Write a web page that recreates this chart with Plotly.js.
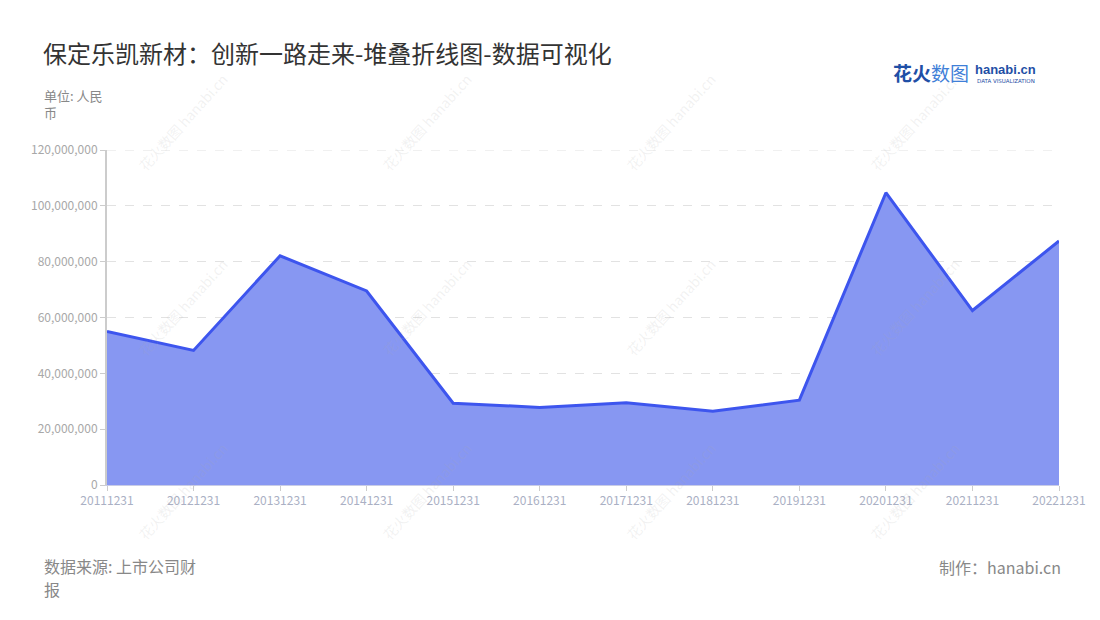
<!DOCTYPE html>
<html>
<head>
<meta charset="utf-8">
<script src="https://cdn.plot.ly/plotly-3.0.1.min.js"></script>
<style>
  html, body { margin: 0; padding: 0; background: #ffffff; }
  #chart { width: 1100px; height: 620px; }
</style>
</head>
<body>
<div id="chart"></div>
<script>
// ---- data ----
const categories = ["20111231","20121231","20131231","20141231","20151231","20161231","20171231","20181231","20191231","20201231","20211231","20221231"];
const values = [55000000, 48200000, 82100000, 69500000, 29300000, 27800000, 29500000, 26400000, 30400000, 104700000, 62500000, 87400000];
const yTickVals = [0, 20000000, 40000000, 60000000, 80000000, 100000000, 120000000];
const yMax = 120000000;
const titleText = "保定乐凯新材：创新一路走来-堆叠折线图-数据可视化";
const unitText = "单位: 人民<br>币";
const sourceLine1 = "数据来源: 上市公司财";
const sourceLine2 = "报";
const makerText = "制作：hanabi.cn";
const watermarkText = "花火数图 hanabi.cn";

// ---- layout helpers (pixel -> paper) ----
const W = 1100, H = 620;
const M = { l: 107, r: 41, t: 150, b: 135 };
const PW = W - M.l - M.r, PH = H - M.t - M.b;
const px = x => (x - M.l) / PW;
const py = y => (H - M.b - y) / PH;

const FONT = "'Noto Sans CJK SC', 'Noto Sans', sans-serif";

const annotations = [];

// watermarks
const wmCols = [183, 427, 671, 915];
const wmRows = [122, 307, 491];
wmCols.forEach(cx => wmRows.forEach(cy => {
  annotations.push({
    xref: 'paper', yref: 'paper', x: px(cx), y: py(cy),
    text: watermarkText, showarrow: false, textangle: -48,
    font: { family: FONT, size: 14, color: 'rgba(170,170,170,0.16)' },
    xanchor: 'center', yanchor: 'middle'
  });
}));

annotations.push(
  { xref: 'paper', yref: 'paper', x: px(42), y: py(84), xanchor: 'left', yanchor: 'top', align: 'left',
    text: unitText, showarrow: false, font: { family: FONT, size: 13, color: '#888888' } },
  { xref: 'paper', yref: 'paper', x: px(42), y: py(566), xanchor: 'left', yanchor: 'middle', align: 'left',
    text: sourceLine1, showarrow: false, font: { family: FONT, size: 16, color: '#888888' } },
  { xref: 'paper', yref: 'paper', x: px(42), y: py(589), xanchor: 'left', yanchor: 'middle', align: 'left',
    text: sourceLine2, showarrow: false, font: { family: FONT, size: 16, color: '#888888' } },
  { xref: 'paper', yref: 'paper', x: px(1063), y: py(567), xanchor: 'right', yanchor: 'middle',
    text: makerText, showarrow: false, font: { family: FONT, size: 16, color: '#888888' } },
  // logo
  { xref: 'paper', yref: 'paper', x: px(891), y: py(73), xanchor: 'left', yanchor: 'middle',
    text: "<b>花火</b><span style='color:#3f7fd8'>数图</span>", showarrow: false,
    font: { family: FONT, size: 19, color: '#1f4fa6' } },
  { xref: 'paper', yref: 'paper', x: px(973), y: py(70), xanchor: 'left', yanchor: 'middle',
    text: "<b>hanabi.cn</b>", showarrow: false,
    font: { family: "'Liberation Sans', sans-serif", size: 13, color: '#1f4fa6' } },
  { xref: 'paper', yref: 'paper', x: px(975), y: py(81), xanchor: 'left', yanchor: 'middle',
    text: "DATA VISUALIZATION", showarrow: false,
    font: { family: "'DejaVu Sans', sans-serif", size: 5.5, color: '#1f4fa6' } }
);

const trace = {
  type: 'scatter',
  mode: 'lines',
  x: categories,
  y: values,
  fill: 'tozeroy',
  fillcolor: '#8797f2',
  line: { color: '#3d55ee', width: 3 },
  hoverinfo: 'x+y'
};

const layout = {
  width: W, height: H,
  margin: M,
  paper_bgcolor: '#ffffff',
  plot_bgcolor: '#ffffff',
  showlegend: false,
  font: { family: FONT },
  title: {
    text: titleText,
    xref: 'container', yref: 'container',
    x: 43 / W, xanchor: 'left',
    y: 1 - 55 / H, yanchor: 'middle',
    font: { family: FONT, size: 24, color: '#333333' }
  },
  xaxis: {
    type: 'category',
    range: [0, categories.length - 1],
    showgrid: false,
    showline: true, linecolor: '#c8cce6', linewidth: 1,
    ticks: 'outside', ticklen: 5, tickcolor: '#cccccc',
    tickfont: { family: FONT, size: 12, color: '#aab0c4' },
    zeroline: false,
    fixedrange: true
  },
  yaxis: {
    range: [0, yMax],
    tickvals: yTickVals,
    tickformat: ',d',
    showgrid: true, gridcolor: '#e2e2e2', griddash: 'dash', gridwidth: 1,
    showline: true, linecolor: '#cccccc', linewidth: 2,
    ticks: 'outside', ticklen: 5, tickcolor: '#cccccc',
    tickfont: { family: FONT, size: 12, color: '#a8a8a8' },
    zeroline: false,
    fixedrange: true
  },
  shapes: [
    { type: 'line', xref: 'paper', yref: 'y', x0: 0, x1: 1, y0: yMax, y1: yMax,
      line: { color: '#e2e2e2', width: 1, dash: 'dash' }, layer: 'below' }
  ],
  annotations: annotations
};

Plotly.newPlot('chart', [trace], layout, { displayModeBar: false });
</script>
</body>
</html>
